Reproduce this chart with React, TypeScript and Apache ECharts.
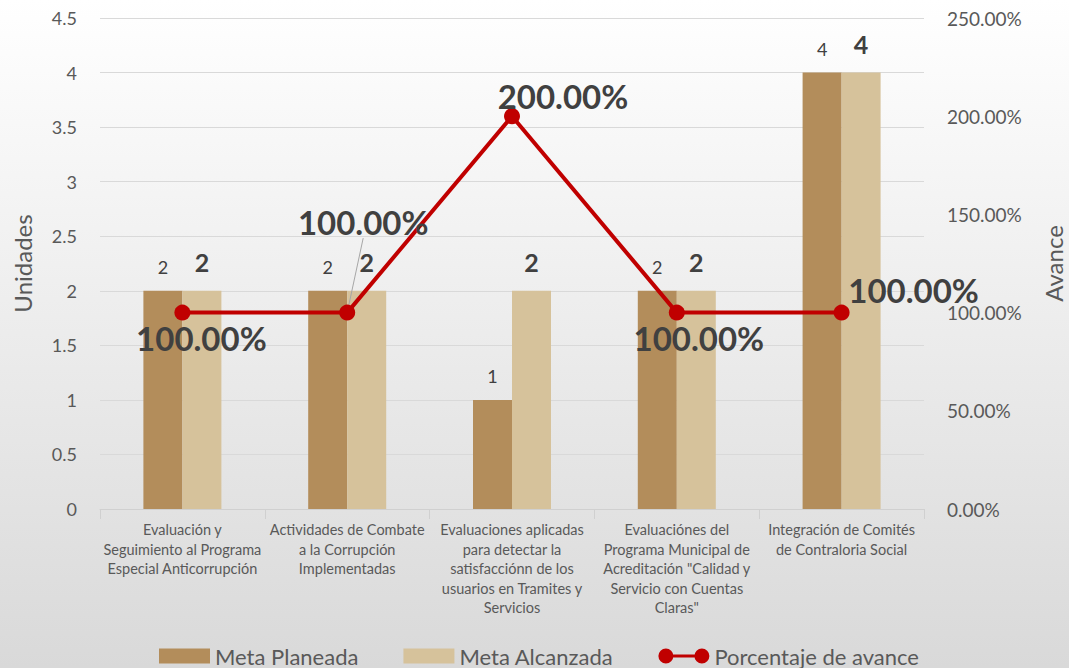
import React, { useEffect, useRef } from "react";
import * as echarts from "echarts";

const categories = [
  "Evaluación y\nSeguimiento al Programa\nEspecial Anticorrupción",
  "Actividades de Combate\na la Corrupción\nImplementadas",
  "Evaluaciones aplicadas\npara detectar la\nsatisfacciónn de los\nusuarios en Tramites y\nServicios",
  "Evaluaciónes del\nPrograma Municipal de\nAcreditación \"Calidad y\nServicio con Cuentas\nClaras\"",
  "Integración de Comités\nde Contraloria Social",
];
const metaPlaneada = [2, 2, 1, 2, 4];
const metaAlcanzada = [2, 2, 2, 2, 4];
const porcentajeAvance = [1, 1, 2, 1, 1];
const leftTicks = { min: 0, max: 4.5, interval: 0.5 };
const rightTicks = { min: 0, max: 2.5, interval: 0.5 };

const FONT = "Lato, 'Noto Sans', sans-serif";
const TEXT = "#595959";
const DARK = "#404040";

// label displacement for the percentage labels (dx, dy) per point
const lineLabelShift = [
  [19, 25],
  [16, -91],
  [51, -20],
  [22, 25],
  [72, -23],
];

export default function App() {
  const ref = useRef<HTMLDivElement>(null);
  useEffect(() => {
    const chart = echarts.init(ref.current!, null, { renderer: "svg" });
    const pct = (v: number) => (v * 100).toFixed(2) + "%";
    chart.setOption({
      animation: false,
      backgroundColor: new echarts.graphic.LinearGradient(0, 0, 0, 1, [
        { offset: 0, color: "#ffffff" },
        { offset: 1, color: "#d9d9d9" },
      ]),
      textStyle: { fontFamily: FONT },
      grid: {
        left: 100,
        right: 145,
        top: 18,
        bottom: 159,
        containLabel: false,
        outerBoundsMode: "none",
      },
      legend: {
        top: 640,
        left: 154,
        itemGap: 45,
        itemWidth: 51,
        itemHeight: 15,
        textStyle: { fontSize: 22, color: TEXT, fontFamily: FONT },
        data: [
          { name: "Meta Planeada", icon: "rect" },
          { name: "Meta Alcanzada", icon: "rect" },
          {
            name: "Porcentaje de avance",
            icon:
              "path://M0,7.5 A7.5,7.5 0 1,1 15,7.5 A7.5,7.5 0 1,1 0,7.5 Z M36,7.5 A7.5,7.5 0 1,1 51,7.5 A7.5,7.5 0 1,1 36,7.5 Z M7.5,6 L43.5,6 L43.5,9 L7.5,9 Z",
            itemStyle: { color: "#c00000" },
          },
        ],
      },
      xAxis: {
        type: "category",
        data: categories,
        axisLine: { lineStyle: { color: "#d0d0d0" } },
        axisTick: { show: true, length: 10, lineStyle: { color: "#d0d0d0" } },
        axisLabel: {
          interval: 0,
          fontSize: 14.5,
          lineHeight: 19.5,
          color: TEXT,
          margin: 11,
          fontFamily: FONT,
        },
      },
      yAxis: [
        {
          type: "value",
          ...leftTicks,
          name: "Unidades",
          nameLocation: "middle",
          nameGap: 66,
          nameTextStyle: { fontSize: 24, color: TEXT, fontFamily: FONT },
          axisLine: { show: false },
          axisTick: { show: false },
          axisLabel: { fontSize: 18, color: TEXT, margin: 23, fontFamily: FONT },
          splitLine: { lineStyle: { color: "#d9d9d9" } },
        },
        {
          type: "value",
          ...rightTicks,
          name: "Avance",
          nameLocation: "middle",
          nameGap: 117,
          nameRotate: 90,
          nameTextStyle: { fontSize: 24, color: TEXT, fontFamily: FONT },
          axisLine: { show: false },
          axisTick: { show: false },
          axisLabel: {
            fontSize: 19,
            color: TEXT,
            margin: 23,
            fontFamily: FONT,
            formatter: pct,
          },
          splitLine: { show: false },
        },
      ],
      series: [
        {
          name: "Meta Planeada",
          type: "bar",
          data: metaPlaneada,
          barWidth: 39,
          barGap: "0%",
          itemStyle: { color: "#b38d5b" },
          label: {
            show: true,
            position: "top",
            distance: 15,
            fontSize: 18,
            color: DARK,
            fontFamily: FONT,
          },
        },
        {
          name: "Meta Alcanzada",
          type: "bar",
          data: metaAlcanzada,
          barWidth: 39,
          barGap: "0%",
          itemStyle: { color: "#d6c29b" },
          label: {
            show: true,
            position: "top",
            distance: 16,
            fontSize: 25,
            fontWeight: "bold",
            color: DARK,
            fontFamily: FONT,
          },
        },
        {
          name: "Porcentaje de avance",
          type: "line",
          yAxisIndex: 1,
          data: porcentajeAvance.map((v, i) =>
            i === 1
              ? { value: v, labelLine: { show: true, lineStyle: { color: "#a6a6a6", width: 1 } } }
              : { value: v }
          ),
          symbol: "circle",
          symbolSize: 16,
          lineStyle: { color: "#c00000", width: 4 },
          itemStyle: { color: "#c00000" },
          label: {
            show: true,
            position: "inside",
            formatter: (p: any) => pct(p.value),
            fontSize: 33,
            fontWeight: "bold",
            color: DARK,
            fontFamily: FONT,
          },
          labelLine: { show: false },
          labelLayout: (p: any) => ({
            dx: lineLabelShift[p.dataIndex][0],
            dy: lineLabelShift[p.dataIndex][1],
          }),
          z: 5,
        },
      ],
    });
    return () => chart.dispose();
  }, []);
  return (
    <div
      ref={ref}
      style={{ position: "fixed", left: 0, top: 0, width: 1069, height: 668 }}
    />
  );
}
